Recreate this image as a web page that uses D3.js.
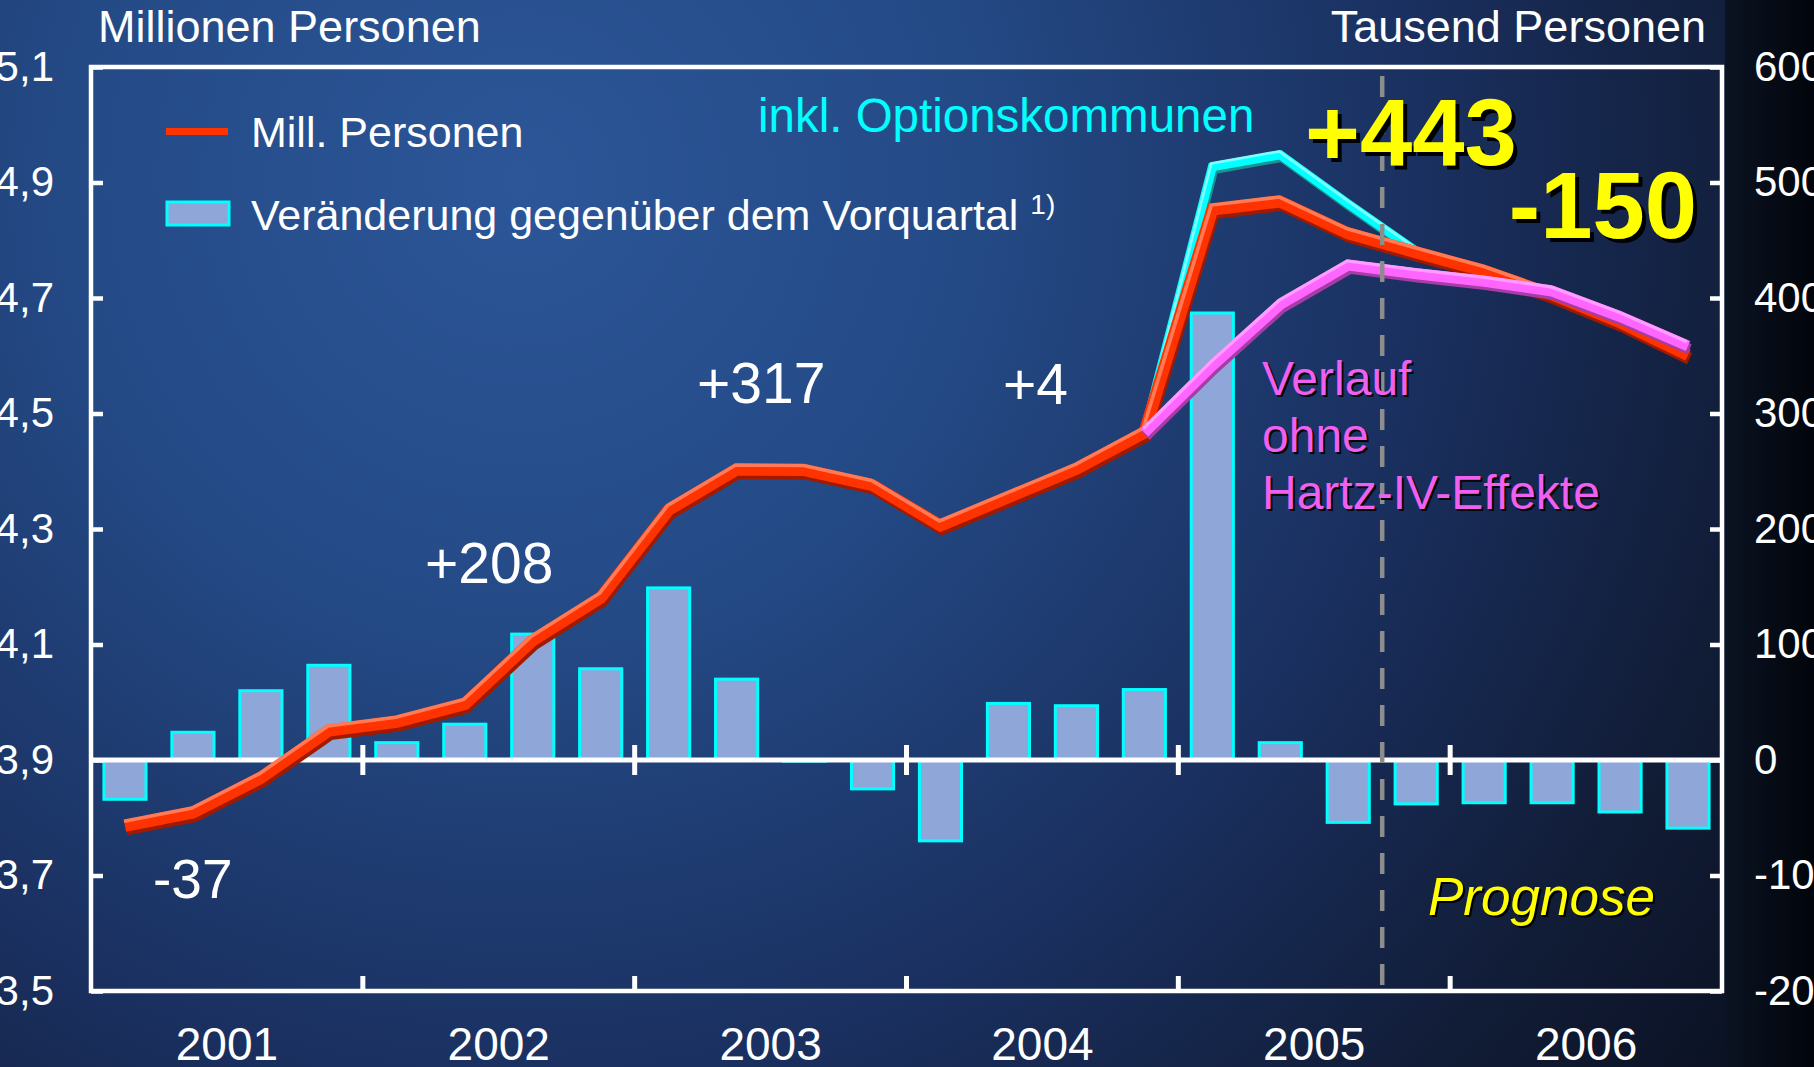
<!DOCTYPE html>
<html>
<head>
<meta charset="utf-8">
<script src="https://cdn.jsdelivr.net/npm/d3@7"></script>
<style>
  html, body { margin: 0; padding: 0; background: #0c1528; overflow: hidden; }
  svg text { font-family: "Liberation Sans", Arial, sans-serif; }
</style>
</head>
<body>
<div id="chart"></div>
<script>
// ---- data ----
var years = ["2001", "2002", "2003", "2004", "2005", "2006"];
var quarterNames = ["Q1", "Q2", "Q3", "Q4"];
var quarters = years.flatMap(function (y) { return quarterNames.map(function (q) { return y + q; }); });

// Veränderung gegenüber dem Vorquartal, Tausend Personen (right axis)
var changeK = [-34, 24, 60, 82, 15, 31, 109, 79, 149, 70, -1, -25,
               -70, 49, 47, 61, 387, 15, -54, -38, -37, -37, -45, -59];

// Mill. Personen (left axis)
var millPersons = [3.786, 3.809, 3.869, 3.951, 3.966, 3.997, 4.107, 4.181, 4.333, 4.403, 4.402, 4.376,
                   4.306, 4.355, 4.404, 4.467, 4.853, 4.867, 4.812, 4.779, 4.747, 4.706, 4.658, 4.601];

// inkl. Optionskommunen
var inklOption = [null, null, null, null, null, null, null, null, null, null, null, null,
                  null, null, null, 4.467, 4.927, 4.948, 4.863, 4.781, null, null, null, null];

// Verlauf ohne Hartz-IV-Effekte
var ohneHartz = [null, null, null, null, null, null, null, null, null, null, null, null,
                 null, null, null, 4.467, 4.583, 4.689, 4.757, 4.742, 4.729, 4.712, 4.668, 4.617];

var leftTicks = [3.5, 3.7, 3.9, 4.1, 4.3, 4.5, 4.7, 4.9, 5.1];
var rightTicks = [-200, -100, 0, 100, 200, 300, 400, 500, 600];
var forecastStart = "2005Q4";

// ---- layout ----
var W = 1814, H = 1067;
var margin = { top: 67, right: 92, bottom: 76, left: 91 };
var innerW = W - margin.left - margin.right,
    innerH = H - margin.top - margin.bottom;

var svg = d3.select("#chart").append("svg")
  .attr("width", W)
  .attr("height", H);

// background
var defs = svg.append("defs");
var bg = defs.append("radialGradient").attr("id", "bg")
  .attr("gradientUnits", "userSpaceOnUse")
  .attr("cx", 520).attr("cy", 180).attr("r", 1500);
bg.append("stop").attr("offset", 0).attr("stop-color", "#2c5698");
bg.append("stop").attr("offset", 0.3).attr("stop-color", "#244a86");
bg.append("stop").attr("offset", 0.6).attr("stop-color", "#1a3060");
bg.append("stop").attr("offset", 0.85).attr("stop-color", "#111c36");
bg.append("stop").attr("offset", 1).attr("stop-color", "#0b1224");
var strip = defs.append("linearGradient").attr("id", "strip")
  .attr("x1", 0).attr("x2", 1).attr("y1", 0).attr("y2", 0);
strip.append("stop").attr("offset", 0).attr("stop-color", "#0b1322");
strip.append("stop").attr("offset", 1).attr("stop-color", "#01040a");

svg.append("rect").attr("width", W).attr("height", H).attr("fill", "url(#bg)");
svg.append("rect").attr("x", W - margin.right + 3).attr("width", margin.right).attr("height", H).attr("fill", "url(#strip)");

var g = svg.append("g").attr("transform", "translate(" + margin.left + "," + margin.top + ")");

// scales
var x = d3.scaleBand().domain(quarters).range([0, innerW]).paddingInner(0.38).paddingOuter(0.19);
var xYear = d3.scaleBand().domain(years).range([0, innerW]);
var yL = d3.scaleLinear().domain([3.5, 5.1]).range([innerH, 0]);
var yR = d3.scaleLinear().domain([-200, 600]).range([innerH, 0]);
var xc = function (i) { return x(quarters[i]) + x.bandwidth() / 2; };

// bars
g.selectAll("rect.bar")
  .data(changeK)
  .enter()
  .append("rect")
  .attr("class", "bar")
  .attr("x", function (d, i) { return x(quarters[i]); })
  .attr("width", x.bandwidth())
  .attr("y", function (d) { return yR(Math.max(0, d)); })
  .attr("height", function (d) { return Math.abs(yR(d) - yR(0)); })
  .attr("fill", "#8ea6d8")
  .attr("stroke", "#00ffff")
  .attr("stroke-width", 3);

// zero line
g.append("line")
  .attr("x1", 0).attr("x2", innerW)
  .attr("y1", yR(0)).attr("y2", yR(0))
  .attr("stroke", "#fff").attr("stroke-width", 5);

// year separators on zero line and bottom
years.slice(1).forEach(function (yr) {
  var xx = xYear(yr);
  g.append("line").attr("x1", xx).attr("x2", xx)
    .attr("y1", yR(0) - 15).attr("y2", yR(0) + 15)
    .attr("stroke", "#fff").attr("stroke-width", 5);
  g.append("line").attr("x1", xx).attr("x2", xx)
    .attr("y1", innerH - 15).attr("y2", innerH)
    .attr("stroke", "#fff").attr("stroke-width", 5);
});

// lines with a bevelled look
function bevelLine(vals, yScale, main, light, dark, w) {
  var line = d3.line()
    .defined(function (d) { return d != null; })
    .x(function (d, i) { return xc(i); })
    .y(function (d) { return yScale(d); });
  var lg = g.append("g");
  lg.append("path").attr("d", line(vals)).attr("fill", "none")
    .attr("stroke", dark).attr("stroke-width", w)
    .attr("transform", "translate(1.5," + (w * 0.3) + ")");
  lg.append("path").attr("d", line(vals)).attr("fill", "none")
    .attr("stroke", main).attr("stroke-width", w);
  lg.append("path").attr("d", line(vals)).attr("fill", "none")
    .attr("stroke", light).attr("stroke-width", w * 0.3)
    .attr("transform", "translate(-1," + (-w * 0.38) + ")");
}
bevelLine(inklOption, yL, "#00ffff", "#7ffcff", "#1b9393", 9);
bevelLine(millPersons, yL, "#ff3300", "#ff7a55", "#a01a00", 12);
bevelLine(ohneHartz, yL, "#ff66ff", "#ff9cff", "#a63ca6", 11);

// forecast divider
var xDiv = x(forecastStart) - x.step() * x.paddingInner() / 2;

// border
g.append("rect").attr("x", 0).attr("y", 0).attr("width", innerW).attr("height", innerH)
  .attr("fill", "none").attr("stroke", "#fff").attr("stroke-width", 4.5);

// axes
var fmtL = d3.formatLocale({ decimal: ",", thousands: ".", grouping: [3], currency: ["", "€"] }).format(".1f");
var axL = g.append("g")
  .call(d3.axisLeft(yL).tickValues(leftTicks).tickFormat(fmtL).tickSizeInner(-12).tickSizeOuter(0).tickPadding(37));
var axR = g.append("g").attr("transform", "translate(" + innerW + ",0)")
  .call(d3.axisRight(yR).tickValues(rightTicks).tickFormat(function (d) { return String(d); })
    .tickSizeInner(-12).tickSizeOuter(0).tickPadding(32));
[axL, axR].forEach(function (ax) {
  ax.select(".domain").remove();
  ax.selectAll(".tick line").attr("stroke", "#fff").attr("stroke-width", 4.5);
  ax.selectAll(".tick text").attr("fill", "#fff").style("font-size", "42px")
    .style("font-family", "'Liberation Sans', Arial, sans-serif");
});

var axX = g.append("g").attr("transform", "translate(0," + innerH + ")")
  .call(d3.axisBottom(xYear).tickSize(0).tickPadding(36));
axX.select(".domain").remove();
axX.selectAll(".tick text").attr("fill", "#fff").style("font-size", "46px")
  .style("font-family", "'Liberation Sans', Arial, sans-serif");

g.append("line")
  .attr("x1", xDiv).attr("x2", xDiv)
  .attr("y1", 9).attr("y2", innerH)
  .attr("stroke", "#8d8d8d").attr("stroke-width", 4.5)
  .attr("stroke-dasharray", "21,16");

// titles
function txt(t, xx, yy, size, color, opts) {
  opts = opts || {};
  if (opts.shadow) {
    svg.append("text").attr("x", xx + opts.shadow).attr("y", yy + opts.shadow)
      .attr("text-anchor", opts.anchor || "start")
      .style("font-size", size + "px").style("font-weight", opts.weight || "normal")
      .style("font-style", opts.style || "normal")
      .attr("fill", "#000").text(t);
  }
  return svg.append("text").attr("x", xx).attr("y", yy)
    .attr("text-anchor", opts.anchor || "start")
    .style("font-size", size + "px").style("font-weight", opts.weight || "normal")
    .style("font-style", opts.style || "normal")
    .attr("fill", color).text(t);
}
txt("Millionen Personen", 98, 42, 45, "#fff");
txt("Tausend Personen", 1706, 42, 45, "#fff", { anchor: "end" });

// legend
svg.append("rect").attr("x", 166).attr("y", 128).attr("width", 62).attr("height", 7).attr("fill", "#ff3300");
txt("Mill. Personen", 251, 147, 43, "#fff");
svg.append("rect").attr("x", 167).attr("y", 202).attr("width", 62).attr("height", 23)
  .attr("fill", "#8ea6d8").attr("stroke", "#00ffff").attr("stroke-width", 3);
var lt = txt("Veränderung gegenüber dem Vorquartal ", 251, 230, 43, "#fff");
lt.append("tspan").attr("dy", -16).style("font-size", "28px").text("1)");

// annotations
txt("-37", 153, 898, 55, "#fff");
txt("+208", 425, 583, 57, "#fff");
txt("+317", 697, 403, 57, "#fff");
txt("+4", 1003, 404, 57, "#fff");
txt("inkl. Optionskommunen", 758, 132, 47.5, "#00ffff");
txt("+443", 1305, 165, 94, "#ffff00", { weight: "bold", shadow: 4 });
txt("-150", 1697, 238, 94, "#ffff00", { weight: "bold", shadow: 4, anchor: "end" });
txt("Verlauf", 1262, 395, 48, "#f060f0", { shadow: 2 });
txt("ohne", 1262, 452, 48, "#f060f0", { shadow: 2 });
txt("Hartz-IV-Effekte", 1262, 509, 48, "#f060f0", { shadow: 2 });
txt("Prognose", 1428, 915, 53, "#ffff00", { style: "italic", shadow: 2 });
</script>
</body>
</html>
